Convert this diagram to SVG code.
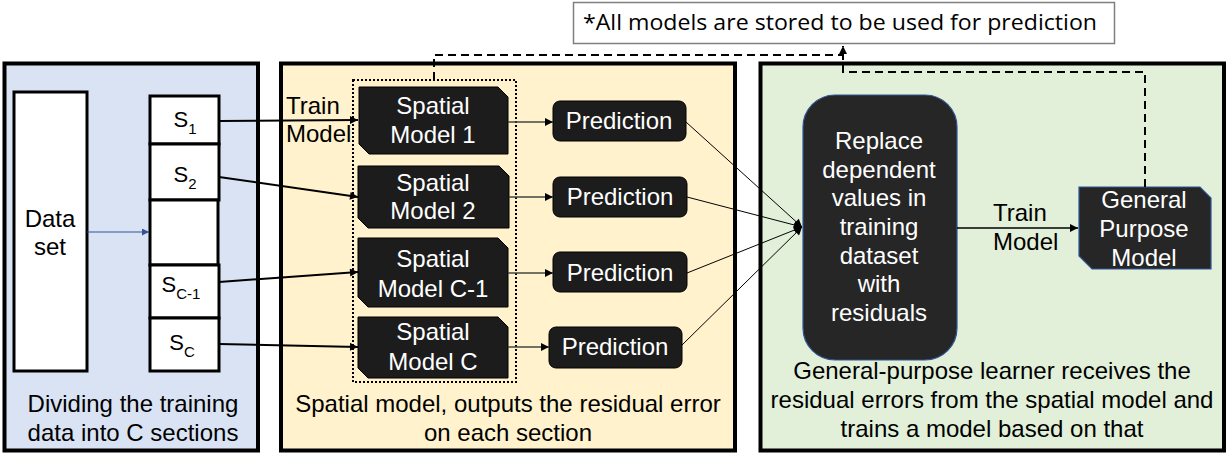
<svg xmlns="http://www.w3.org/2000/svg" width="1230" height="453" viewBox="0 0 1230 453">
<defs>
<style>
.panel{stroke:#000;stroke-width:4}
.t{font-family:"Liberation Sans",Arial,sans-serif;font-size:24px;fill:#000}
.w{font-family:"Liberation Sans",Arial,sans-serif;font-size:24px;fill:#fff;text-anchor:middle}
.sl{font-family:"Liberation Sans",Arial,sans-serif;font-size:22px;fill:#000;text-anchor:middle}
.sec{fill:#fff;stroke:#000;stroke-width:3}
.sm{fill:#1c1c1c;stroke:#000;stroke-width:1}
.pred{fill:#1c1c1c;stroke:#000;stroke-width:1}
.dk{fill:#262626;stroke:#2f5597;stroke-width:1.2}
.cap{font-family:"Liberation Sans",Arial,sans-serif;font-size:24px;fill:#000;text-anchor:middle}
</style>
<marker id="ah" viewBox="0 0 10 10" refX="10" refY="5" markerWidth="9" markerHeight="8" markerUnits="userSpaceOnUse" orient="auto">
<path d="M0,0 L10,5 L0,10 z" fill="#000"/>
</marker>
<marker id="ahb" viewBox="0 0 10 10" refX="10" refY="5" markerWidth="8" markerHeight="7" markerUnits="userSpaceOnUse" orient="auto">
<path d="M0,0 L10,5 L0,10 z" fill="#2f5597"/>
</marker>
</defs>

<!-- panels -->
<g id="panel-left">
<rect class="panel" x="4.5" y="63.5" width="253.5" height="387" fill="#dae3f3"/>
<text class="cap" x="133" y="412">Dividing the training</text>
<text class="cap" x="133" y="441">data into C sections</text>
</g>
<g id="panel-middle">
<rect class="panel" x="281" y="63.5" width="454" height="387" fill="#fff2cc"/>
<text class="cap" x="508" y="412">Spatial model, outputs the residual error</text>
<text class="cap" x="508" y="441">on each section</text>
<text class="t" x="286" y="114">Train</text>
<text class="t" x="286" y="142">Model</text>
</g>
<g id="panel-right">
<rect class="panel" x="760.5" y="63.5" width="463.5" height="387" fill="#e2f0d9"/>
<text class="cap" x="992" y="379">General-purpose learner receives the</text>
<text class="cap" x="992" y="408">residual errors from the spatial model and</text>
<text class="cap" x="992" y="437">trains a model based on that</text>
</g>

<g id="note">
<rect x="573.5" y="2.5" width="541" height="41" fill="#fff" stroke="#7f7f7f" stroke-width="1.5"/>
<text x="583" y="30" font-family="'Open Sans','Noto Sans',sans-serif" font-size="22" textLength="514" lengthAdjust="spacingAndGlyphs" fill="#000">*All models are stored to be used for prediction</text>
</g>

<g id="dataset">
<rect class="sec" x="14" y="92" width="73" height="279"/>
<text class="cap" x="50" y="227">Data</text>
<text class="cap" x="50" y="255">set</text>
</g>

<g id="sections">
<g id="s1"><rect class="sec" x="150" y="96" width="69" height="48"/>
<text class="sl" x="185" y="127">S<tspan font-size="15" dy="7">1</tspan></text></g>
<g id="s2"><rect class="sec" x="150" y="144" width="69" height="56"/>
<text class="sl" x="185" y="182">S<tspan font-size="15" dy="7">2</tspan></text></g>
<g id="s-empty"><rect class="sec" x="150" y="200" width="68" height="65"/></g>
<g id="sc1"><rect class="sec" x="150" y="265" width="69" height="53"/>
<text class="sl" x="181" y="292">S<tspan font-size="15" dy="7">C-1</tspan></text></g>
<g id="sc"><rect class="sec" x="150" y="318" width="69" height="53"/>
<text class="sl" x="182" y="350">S<tspan font-size="15" dy="7">C</tspan></text></g>
</g>

<g id="spatial-group">
<rect x="353" y="80" width="163" height="302" fill="none" stroke="#000" stroke-width="2" stroke-dasharray="2,2"/>
</g>

<g id="sm1"><path class="sm" d="M359,87 H498 L508,97 V154 H369 L359,144 Z"/>
<text class="w" x="433" y="114">Spatial</text><text class="w" x="433" y="143">Model 1</text></g>
<g id="sm2"><path class="sm" d="M358,166 H499 L509,176 V228 H368 L358,218 Z"/>
<text class="w" x="433" y="191">Spatial</text><text class="w" x="433" y="219">Model 2</text></g>
<g id="smc1"><path class="sm" d="M358,238 H498 L508,248 V307 H368 L358,297 Z"/>
<text class="w" x="433" y="267">Spatial</text><text class="w" x="433" y="297">Model C-1</text></g>
<g id="smc"><path class="sm" d="M358,317 H498 L508,327 V378 H368 L358,368 Z"/>
<text class="w" x="433" y="340">Spatial</text><text class="w" x="433" y="370">Model C</text></g>

<g id="pred1"><rect class="pred" x="553" y="101" width="133" height="40" rx="7"/><text class="w" x="619" y="129">Prediction</text></g>
<g id="pred2"><rect class="pred" x="553" y="177" width="134" height="40" rx="7"/><text class="w" x="620" y="205">Prediction</text></g>
<g id="pred3"><rect class="pred" x="553" y="252" width="134" height="40" rx="7"/><text class="w" x="620" y="281">Prediction</text></g>
<g id="pred4"><rect class="pred" x="549" y="327" width="133" height="41" rx="7"/><text class="w" x="615" y="355">Prediction</text></g>

<g id="replace">
<rect class="dk" x="803" y="95" width="154" height="265" rx="32"/>
<text class="w" x="879" y="149">Replace</text>
<text class="w" x="879" y="178">dependent</text>
<text class="w" x="879" y="206">values in</text>
<text class="w" x="879" y="235">training</text>
<text class="w" x="879" y="264">dataset</text>
<text class="w" x="879" y="292">with</text>
<text class="w" x="879" y="321">residuals</text>
</g>

<g id="gpmodel">
<path class="dk" d="M1079,187 H1200 L1211,198 V269 H1092 L1079,256 Z"/>
<text class="w" x="1144" y="208">General</text>
<text class="w" x="1144" y="237">Purpose</text>
<text class="w" x="1144" y="266">Model</text>
</g>
<text class="t" x="993" y="221">Train</text>
<text class="t" x="993" y="250">Model</text>

<g id="connectors" fill="none">
<line x1="87" y1="232" x2="149" y2="232" stroke="#2f5597" stroke-width="1.2" marker-end="url(#ahb)"/>
<line x1="219" y1="121" x2="358" y2="120" stroke="#000" stroke-width="2" marker-end="url(#ah)"/>
<line x1="219" y1="177" x2="358" y2="197" stroke="#000" stroke-width="2" marker-end="url(#ah)"/>
<line x1="219" y1="282" x2="358" y2="272" stroke="#000" stroke-width="2" marker-end="url(#ah)"/>
<line x1="219" y1="344" x2="358" y2="347" stroke="#000" stroke-width="2" marker-end="url(#ah)"/>
<line x1="508" y1="122" x2="553" y2="122" stroke="#444" stroke-width="1.3" marker-end="url(#ah)"/>
<line x1="509" y1="197" x2="553" y2="197" stroke="#444" stroke-width="1.3" marker-end="url(#ah)"/>
<line x1="508" y1="273" x2="553" y2="273" stroke="#444" stroke-width="1.3" marker-end="url(#ah)"/>
<line x1="508" y1="347" x2="549" y2="347" stroke="#444" stroke-width="1.3" marker-end="url(#ah)"/>
<line x1="686" y1="122" x2="802" y2="227" stroke="#000" stroke-width="1" marker-end="url(#ah)"/>
<line x1="687" y1="197" x2="802" y2="227" stroke="#000" stroke-width="1" marker-end="url(#ah)"/>
<line x1="687" y1="273" x2="802" y2="227" stroke="#000" stroke-width="1" marker-end="url(#ah)"/>
<line x1="682" y1="345" x2="802" y2="227" stroke="#000" stroke-width="1" marker-end="url(#ah)"/>
<line x1="957" y1="228" x2="1078" y2="228" stroke="#000" stroke-width="1.3" marker-end="url(#ah)"/>
<path d="M434,80 V55 H843" stroke="#000" stroke-width="2" stroke-dasharray="8,5"/>
<path d="M1145,187 V72 H843 V46" stroke="#000" stroke-width="2" stroke-dasharray="8,5" marker-end="url(#ah)"/>
</g>
</svg>
